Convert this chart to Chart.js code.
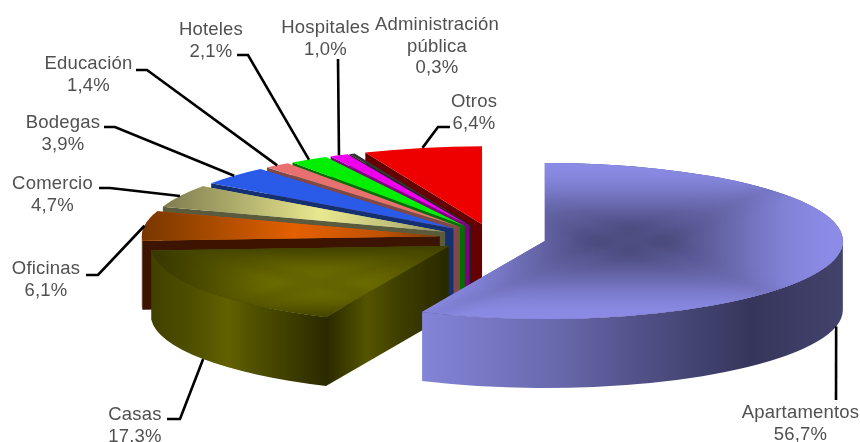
<!DOCTYPE html>
<html><head><meta charset="utf-8">
<style>html,body{margin:0;padding:0;background:#fff}canvas{display:block}</style>
<script src="https://cdn.jsdelivr.net/npm/chart.js@4/dist/chart.umd.js"></script>
</head><body><canvas id="c" width="860" height="442"></canvas>
<script>
const categories = ['Apartamentos','Casas','Oficinas','Comercio','Bodegas','Educación','Hoteles','Hospitales','Administración pública','Otros'];
const values = [56.7,17.3,6.1,4.7,3.9,1.4,2.1,1.0,0.3,6.4];
const valueLabels = ['56,7%','17.3%','6,1%','4,7%','3,9%','1,4%','2,1%','1,0%','0,3%','6,4%'];
const topColors = ['#8c8ce8','#5a5a00','#c85400','#c8c880','#2a5ae8','#e87070','#00ee00','#ee00ee','#333333','#ee0000'];
const faceColors = ['#8080d0','#2a2a00','#3c1400','#5a5a3c','#143070','#804848','#007000','#800080','#222222','#660000'];

// projection of the tilted pie
const R = 150, RX = 298, RY = 78, DEPTH = 69, CX = 492.7, CY = 238, EXPLODE = 0.179;
// label layout: centre x, first line y, elbow of the leader, start of the leader
const labelLines = [['Apartamentos'],['Casas'],['Oficinas'],['Comercio'],['Bodegas'],['Educación'],['Hoteles'],['Hospitales'],['Administración','pública'],['Otros']];
const labelPos = [[800.5,413],[135,415],[46,269],[52.5,184],[63,123],[88.5,64],[211,30],[325.5,28],[437,25],[474,102]];
const leaderElbows = [null,[180,419],[98,275],[110,188],[115,127],[147,70],[248,55],null,null,[438,127]];
const leaderStarts = [[836,400],[167,419],[86,275],[99,188],[104,127],[136,70],[237,55],[338,59],null,[450,127]];

const wallStops = {
  0:[[422,'#8484d8'],[550,'#6a6ab0'],[660,'#4c4c80'],[750,'#36365c'],[843,'#42426c']],
  1:[[148,'#404000'],[200,'#525200'],[228,'#626200'],[250,'#525200'],[327,'#2a2a00']]
};
const faceStops = {1:[[327,'#2a2a00'],[367,'#545400'],[400,'#3e3e00'],[445,'#2a2a00']]};
const topStops = {
  2:[[141,'#763600'],[200,'#a04800'],[295,'#e46000'],[380,'#c25200'],[438,'#7a3c00']],
  3:[[161,'#7e7a50'],[230,'#aaa868'],[320,'#e8e890'],[400,'#bcbc78'],[444,'#8a8a58']]
};
const boxShades = {
  0:{cx:630,cy:241,hx:200,hy:74,blur:7,stops:[[0,'#42426e'],[0.15,'#48487a'],[0.45,'#6464a6'],[0.75,'#8080d4'],[1,'#8c8ce8']]},
  1:{cx:320,cy:283,hx:165,hy:42,blur:6,stops:[[0,'#707000'],[0.3,'#6c6c00'],[0.7,'#4c4c00'],[1,'#383800']]}
};

function apexOf(arc){
  const mid = (arc.startAngle+arc.endAngle)/2;
  return {x:CX+Math.cos(mid)*EXPLODE*RX, y:CY+Math.sin(mid)*EXPLODE*RY};
}
function hGrad(ctx,stops){
  const x0=stops[0][0],x1=stops[stops.length-1][0];
  const g=ctx.createLinearGradient(x0,0,x1,0);
  stops.forEach(s=>g.addColorStop((s[0]-x0)/(x1-x0),s[1]));
  return g;
}
function drawWalls(ctx,arc,i){
  const a=apexOf(arc), t1=arc.startAngle, t2=arc.endAngle;
  const from=Math.max(t1,0), to=Math.min(t2,Math.PI);
  if(to>from){
    ctx.beginPath();
    ctx.ellipse(a.x,a.y,RX,RY,0,from,to);
    ctx.ellipse(a.x,a.y+DEPTH,RX,RY,0,to,from,true);
    ctx.closePath();
    ctx.fillStyle=wallStops[i]?hGrad(ctx,wallStops[i]):faceColors[i];
    ctx.fill();
  }
  const face=t=>{
    const x=a.x+RX*Math.cos(t), y=a.y+RY*Math.sin(t);
    ctx.beginPath();ctx.moveTo(a.x,a.y);ctx.lineTo(x,y);ctx.lineTo(x,y+DEPTH);ctx.lineTo(a.x,a.y+DEPTH);ctx.closePath();
    ctx.fillStyle=faceStops[i]?hGrad(ctx,faceStops[i]):faceColors[i];
    ctx.fill();
  };
  if(Math.cos(t1)<-1e-3) face(t1);
  if(Math.cos(t2)>1e-3) face(t2);
}
function paintBox(ctx,b){
  const big=1200, k=b.hy/b.hx;
  const lin=(x0,y0,x1,y1)=>{const g=ctx.createLinearGradient(x0,y0,x1,y1);b.stops.forEach(s=>g.addColorStop(s[0],s[1]));return g;};
  const tri=(dx,dy,g)=>{
    ctx.beginPath();ctx.moveTo(b.cx,b.cy);
    if(dx){ctx.lineTo(b.cx+dx*big,b.cy-big*k);ctx.lineTo(b.cx+dx*big,b.cy+big*k);}
    else{ctx.lineTo(b.cx-big,b.cy+dy*big*k);ctx.lineTo(b.cx+big,b.cy+dy*big*k);}
    ctx.closePath();ctx.fillStyle=g;ctx.fill();
  };
  // the base colour underneath hides the hairline seams between the four sectors
  ctx.filter='blur('+b.blur+'px)';
  ctx.fillStyle=b.stops[2][1];ctx.fillRect(0,0,860,442);
  tri(1,0,lin(b.cx,0,b.cx+b.hx,0));
  tri(-1,0,lin(b.cx,0,b.cx-b.hx,0));
  tri(0,1,lin(0,b.cy,0,b.cy+b.hy));
  tri(0,-1,lin(0,b.cy,0,b.cy-b.hy));
  ctx.filter='none';
}
function drawTop(ctx,arc,i){
  const a=apexOf(arc), s=R;
  ctx.save();
  ctx.translate(a.x,a.y);ctx.scale(RX/s,RY/s);ctx.translate(-arc.x,-arc.y);
  arc.draw(ctx);
  ctx.restore();
  if(topStops[i]||boxShades[i]){
    ctx.save();
    ctx.beginPath();ctx.moveTo(a.x,a.y);
    ctx.ellipse(a.x,a.y,RX,RY,0,arc.startAngle,arc.endAngle);ctx.closePath();
    ctx.clip();
    if(topStops[i]){ctx.fillStyle=hGrad(ctx,topStops[i]);ctx.fillRect(0,0,860,442);}
    else paintBox(ctx,boxShades[i]);
    ctx.restore();
  }
}
function drawLabels(ctx,arcs){
  ctx.save();
  ctx.strokeStyle='#000';ctx.lineWidth=2.6;ctx.lineJoin='miter';
  arcs.forEach((arc,i)=>{
    if(!leaderStarts[i]) return;
    const a=apexOf(arc), mid=(arc.startAngle+arc.endAngle)/2;
    const ex=a.x+RX*Math.cos(mid);
    const ey=a.y+RY*Math.sin(mid)+(Math.sin(mid)>0?DEPTH:0);
    ctx.beginPath();ctx.moveTo(leaderStarts[i][0],leaderStarts[i][1]);
    if(leaderElbows[i])ctx.lineTo(leaderElbows[i][0],leaderElbows[i][1]);
    ctx.lineTo(ex,ey);ctx.stroke();
  });
  ctx.fillStyle='#505050';ctx.font='18.5px "Liberation Sans", Arial, sans-serif';
  ctx.textAlign='center';ctx.textBaseline='middle';
  if('letterSpacing' in ctx) ctx.letterSpacing='0.2px';
  categories.forEach((c,i)=>{
    const lines=labelLines[i].concat([valueLabels[i]]);
    lines.forEach((t,k)=>ctx.fillText(t,labelPos[i][0],labelPos[i][1]+k*21.5));
  });
  ctx.restore();
}
const tiltPlugin={
  id:'tilt',
  beforeDatasetsDraw(chart){
    const ctx=chart.ctx, arcs=chart.getDatasetMeta(0).data;
    for(let i=arcs.length-1;i>=0;i--) drawWalls(ctx,arcs[i],i);
    arcs.forEach((arc,i)=>drawTop(ctx,arc,i));
    drawLabels(ctx,arcs);
    return false;
  }
};
new Chart(document.getElementById('c'),{
  type:'pie',
  data:{labels:categories,datasets:[{data:values,backgroundColor:topColors,borderWidth:0}]},
  options:{
    responsive:false,animation:false,radius:R,rotation:0,
    events:[],
    plugins:{legend:{display:false},tooltip:{enabled:false}}
  },
  plugins:[tiltPlugin]
});
</script></body></html>
